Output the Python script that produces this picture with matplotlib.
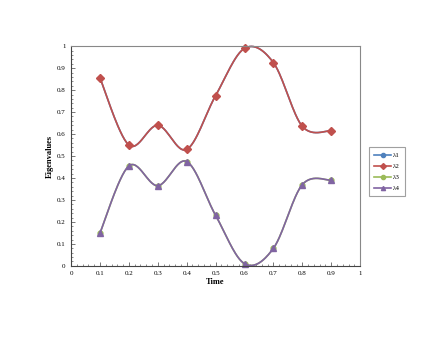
import numpy as np
import matplotlib
matplotlib.use("Agg")
import matplotlib.pyplot as plt
from matplotlib.ticker import MultipleLocator, FuncFormatter

time = [0.1, 0.2, 0.3, 0.4, 0.5, 0.6, 0.7, 0.8, 0.9]
lam1 = [0.855, 0.55, 0.64, 0.53, 0.775, 0.99, 0.925, 0.635, 0.615]
lam2 = [0.855, 0.55, 0.64, 0.53, 0.775, 0.99, 0.925, 0.635, 0.615]
lam3 = [0.15, 0.455, 0.365, 0.475, 0.23, 0.01, 0.08, 0.37, 0.39]
lam4 = [0.15, 0.455, 0.365, 0.475, 0.23, 0.01, 0.08, 0.37, 0.39]
labels = ["λ1", "λ2", "λ3", "λ4"]
colors = ["#4F81BD", "#C0504D", "#9BBB59", "#8064A2"]
markers = ["o", "D", "o", "^"]
sizes = [2.5, 3.6, 3.5, 4.2]


def smooth(x, y, n=30):
    x = np.asarray(x, float); y = np.asarray(y, float)
    px, py = [x[0]], [y[0]]
    m = len(x)
    for i in range(m - 1):
        x0, y0 = (x[i - 1], y[i - 1]) if i > 0 else (x[i], y[i])
        x3, y3 = (x[i + 2], y[i + 2]) if i + 2 < m else (x[i + 1], y[i + 1])
        x1, y1, x2, y2 = x[i], y[i], x[i + 1], y[i + 1]
        c1x, c1y = x1 + (x2 - x0) / 6, y1 + (y2 - y0) / 6
        c2x, c2y = x2 - (x3 - x1) / 6, y2 - (y3 - y1) / 6
        t = np.linspace(0, 1, n)[1:]
        bx = (1-t)**3*x1 + 3*(1-t)**2*t*c1x + 3*(1-t)*t**2*c2x + t**3*x2
        by = (1-t)**3*y1 + 3*(1-t)**2*t*c1y + 3*(1-t)*t**2*c2y + t**3*y2
        px.extend(bx); py.extend(by)
    return np.array(px), np.array(py)


plt.rcParams['font.family'] = ['Liberation Serif', 'DejaVu Serif']
fig = plt.figure(figsize=(4.36, 3.37), dpi=100)
ax = fig.add_axes([0.163, 0.211, 0.663, 0.652])

for ys, lab, c, mk, ms in zip([lam1, lam2, lam3, lam4], labels, colors, markers, sizes):
    sx, sy = smooth(time, ys)
    ax.plot(sx, sy, color=c, lw=1.2, clip_on=False)
    ax.plot(time, ys, linestyle="none", marker=mk, color=c, ms=ms, clip_on=False)
    ax.plot([], [], color=c, marker=mk, ms=3, lw=1.2, label=lab)

ax.set_xlim(0, 1)
ax.set_ylim(0, 1)
fmt = FuncFormatter(lambda v, p: f"{round(v, 1):g}")
ax.xaxis.set_major_locator(MultipleLocator(0.1))
ax.yaxis.set_major_locator(MultipleLocator(0.1))
ax.xaxis.set_minor_locator(MultipleLocator(0.02))
ax.yaxis.set_minor_locator(MultipleLocator(0.02))
ax.xaxis.set_major_formatter(fmt)
ax.yaxis.set_major_formatter(fmt)
ax.tick_params(which="major", direction="in", length=3, width=0.6, labelsize=5, pad=4, color="#606060")
ax.tick_params(which="minor", direction="in", length=1.5, width=0.5, color="#606060")
for s in ax.spines.values():
    s.set_color("#888888")
    s.set_linewidth(0.8)
ax.spines["left"].set_color("#444444")
ax.spines["bottom"].set_color("#444444")
ax.set_xlabel("Time", fontsize=6, fontweight="bold", labelpad=1)
ax.set_ylabel("Eigenvalues", fontsize=6, fontweight="bold", labelpad=2)

leg = fig.legend(loc="upper left", bbox_to_anchor=(366 / 436, 1 - 144 / 337), fontsize=5,
                 frameon=True, fancybox=False, edgecolor="#888888", handlelength=2.4,
                 borderpad=0.7, labelspacing=0.75, handletextpad=0.3)
leg.get_frame().set_linewidth(0.8)

fig.savefig("out.png", dpi=100)
